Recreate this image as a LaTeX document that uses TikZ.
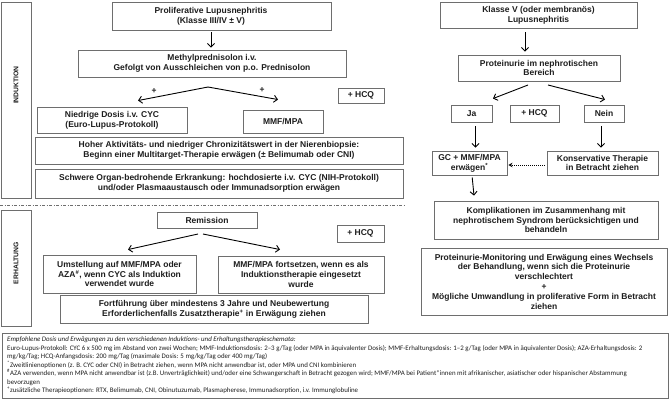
\documentclass[tikz,border=0pt]{standalone}
\usepackage{fontspec}
\setmainfont{Liberation Sans}
\newfontfamily\notefont{Carlito}
\usetikzlibrary{arrows.meta,calc}
\definecolor{boxgray}{HTML}{6E6E6E}
\definecolor{txtc}{HTML}{1E1E1E}
\begin{document}
\begin{tikzpicture}[x=1pt,y=-1pt,
  box/.style={draw=boxgray, line width=0.9pt, inner sep=0pt, fill=white},
  lbl/.style={font=\fontsize{8.5}{9.8}\selectfont\bfseries, text=txtc, align=center, inner sep=0pt},
  side/.style={font=\fontsize{6.8}{8}\selectfont\bfseries, text=txtc, inner sep=0pt, rotate=90},
  arr/.style={draw=black, line width=0.9pt, -{Straight Barb[length=3.5pt,width=7pt]}},
  dotarr/.style={draw=black, line width=0.9pt, dash pattern=on 1pt off 1pt, -{Stealth[length=4pt,width=4.5pt]}},
  plus/.style={font=\fontsize{8.5}{9.8}\selectfont\bfseries, text=txtc, inner sep=0pt},
  sep/.style={draw=boxgray, line width=0.8pt, dash pattern=on 3pt off 1.5pt on 1pt off 1.5pt},
  ]
\useasboundingbox (0,0) rectangle (670,402);

% side boxes
\node[box, minimum width=30pt, minimum height=196pt] (indbox) at (16,100) {};
\node[side] (indT) at (16,85) {INDUKTION};
\node[box, minimum width=30pt, minimum height=116pt] (erhbox) at (16,268) {};
\node[side] (erhT) at (16,263) {ERHALTUNG};

% separator
\coordinate (sepA) at (0,205);
\coordinate (sepB) at (406,205);
\draw[sep] (sepA) -- (sepB);

% left induction column
\node[box, minimum width=219pt, minimum height=28pt] (prolif) at (222,16) {};
\node[lbl] (prolifT) at (211,16) {Proliferative Lupusnephritis\\(Klasse III/IV \textpm{} V)};
\node[box, lbl, minimum width=268pt, minimum height=27pt] (methyl) at (212,63.5) {Methylprednisolon i.v.\\Gefolgt von Ausschleichen von p.o. Prednisolon};
\node[box, lbl, minimum width=150pt, minimum height=26pt] (niedrig) at (112,120) {Niedrige Dosis i.v. CYC\\(Euro-Lupus-Protokoll)};
\node[box, lbl, minimum width=80pt, minimum height=23pt] (mmf) at (283,121.5) {MMF/MPA};
\node[box, lbl, minimum width=46pt, minimum height=15pt] (hcq1) at (361,95.5) {+ HCQ};
\node[box, lbl, minimum width=368pt, minimum height=27pt] (hoher) at (219,150.5) {Hoher Aktivitäts- und niedriger Chronizitätswert in der Nierenbiopsie:\\Beginn einer Multitarget-Therapie erwägen (\textpm{} Belimumab oder CNI)};
\node[box, lbl, minimum width=368pt, minimum height=29pt] (schwere) at (219,183.5) {Schwere Organ-bedrohende Erkrankung: hochdosierte i.v. CYC (NIH-Protokoll)\\und/oder Plasmaaustausch oder Immunadsorption erwägen};

\draw[arr, shorten <=2pt, shorten >=2pt] (prolifT |- prolif.south) -- (prolifT |- methyl.north);
\coordinate (split1) at (208,87);
\draw[arr] (split1) -- ([xshift=26pt,yshift=6pt]niedrig.north);
\draw[arr] (split1) -- ([xshift=-5pt,yshift=10pt]mmf.north);
\node[plus] (plusA) at (154,91) {+};
\node[plus] (plusB) at (262,90) {+};

% left maintenance column
\node[box, lbl, minimum width=100pt, minimum height=16pt] (remis) at (207,220) {Remission};
\node[box, lbl, minimum width=47pt, minimum height=17pt] (hcq2) at (360.5,233.5) {+ HCQ};
\node[box, lbl, minimum width=153pt, minimum height=38pt] (umst) at (119.5,274) {Umstellung auf MMF/MPA oder\\AZA\textsuperscript{\#}, wenn CYC als Induktion\\verwendet wurde};
\node[box, lbl, minimum width=166pt, minimum height=37pt] (mmffort) at (301,274.5) {MMF/MPA fortsetzen, wenn es als\\Induktionstherapie eingesetzt\\wurde};
\node[box, lbl, minimum width=308pt, minimum height=28pt] (fort) at (214,309) {Fortführung über mindestens 3 Jahre und Neubewertung\\Erforderlichenfalls Zusatztherapie\textsuperscript{+} in Erwägung ziehen};

\coordinate (split2a) at (198,234);
\coordinate (split2b) at (203,234);
\draw[arr] (split2a) -- ([xshift=8.5pt,yshift=5pt]umst.north);
\draw[arr] (split2b) -- ([xshift=-21pt,yshift=6pt]mmffort.north);

% right column
\node[box, lbl, minimum width=197pt, minimum height=26pt] (klasse) at (538.5,15) {Klasse V (oder membranös)\\Lupusnephritis};
\node[box, lbl, minimum width=162pt, minimum height=26pt] (prot) at (539,68) {Proteinurie im nephrotischen\\Bereich};
\node[box, lbl, minimum width=41pt, minimum height=17pt] (ja) at (471.5,113.5) {Ja};
\node[box, lbl, minimum width=49pt, minimum height=17pt] (hcq3) at (534.5,113.5) {+ HCQ};
\node[box, lbl, minimum width=40pt, minimum height=17pt] (nein) at (604,113.5) {Nein};
\node[box, lbl, minimum width=75pt, minimum height=24pt] (gc) at (469.5,163) {GC + MMF/MPA\\erwägen\textsuperscript{*}};
\node[box, lbl, minimum width=111pt, minimum height=24pt] (kons) at (602.5,163) {Konservative Therapie\\in Betracht ziehen};
\node[box, lbl, minimum width=224pt, minimum height=38pt] (kompl) at (546,220) {Komplikationen im Zusammenhang mit\\nephrotischem Syndrom berücksichtigen und\\behandeln};
\node[box, lbl, minimum width=246pt, minimum height=67pt] (monit) at (544,281.5) {Proteinurie-Monitoring und Erwägung eines Wechsels\\der Behandlung, wenn sich die Proteinurie\\verschlechtert\\+\\Mögliche Umwandlung in proliferative Form in Betracht\\ziehen};

\draw[arr, shorten <=4pt, shorten >=3pt] ([xshift=-13.5pt]klasse.south) -- ([xshift=-14pt]prot.north);
\coordinate (split3a) at (528,85);
\coordinate (split3b) at (548,85);
\draw[arr] (split3a) -- ([xshift=21.5pt,yshift=6pt]ja.north);
\draw[arr] (split3b) -- ([xshift=1pt,yshift=5pt]nein.north);
\draw[arr, shorten <=4pt, shorten >=3pt] ([xshift=4pt]ja.south) -- ([xshift=6pt]gc.north);
\draw[arr, shorten <=4pt, shorten >=3pt] ([xshift=-3pt]nein.south) -- ([xshift=-1.5pt]kons.north);
\draw[arr, shorten <=2pt, shorten >=5pt] ([xshift=2.5pt]gc.south) -- ([xshift=-71.5pt]kompl.north);
\draw[dotarr, shorten <=2pt, shorten >=1pt] ([yshift=-2pt]kons.west) -- ([yshift=-2pt]gc.east);

% notes
\node[box, minimum width=666pt, minimum height=65pt] (note) at (335,365.5) {};
\node[anchor=north west, inner sep=0pt, align=left, text=txtc, font=\notefont\fontsize{6.9}{8.5}\selectfont] (noteT) at (7,337) {%
\textit{Empfohlene Dosis und Erwägungen zu den verschiedenen Induktions- und Erhaltungstherapieschemata:}\\
Euro-Lupus-Protokoll: CYC 6 x 500 mg im Abstand von zwei Wochen; MMF-Induktionsdosis: 2–3 g/Tag (oder MPA in äquivalenter Dosis); MMF-Erhaltungsdosis: 1–2 g/Tag (oder MPA in äquivalenter Dosis); AZA-Erhaltungsdosis: 2\\
mg/kg/Tag; HCQ-Anfangsdosis: 200 mg/Tag (maximale Dosis: 5 mg/kg/Tag oder 400 mg/Tag)\\
\textsuperscript{*}Zweitlinienoptionen (z. B. CYC oder CNI) in Betracht ziehen, wenn MPA nicht anwendbar ist, oder MPA und CNI kombinieren\\
\textsuperscript{\#}AZA verwenden, wenn MPA nicht anwendbar ist (z.B. Unverträglichkeit) und/oder eine Schwangerschaft in Betracht gezogen wird; MMF/MPA bei Patient*innen mit afrikanischer, asiatischer oder hispanischer Abstammung\\
bevorzugen\\
\textsuperscript{+}zusätzliche Therapieoptionen: RTX, Belimumab, CNI, Obinutuzumab, Plasmapherese, Immunadsorption, i.v. Immunglobuline};
\end{tikzpicture}
\end{document}
